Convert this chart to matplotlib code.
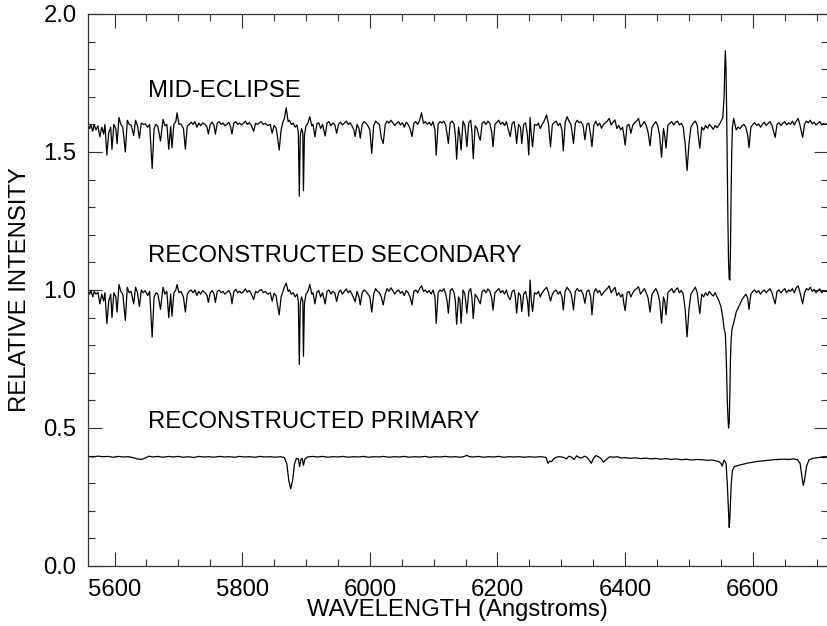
import numpy as np
import matplotlib
matplotlib.use("Agg")
import matplotlib.pyplot as plt
from matplotlib.ticker import MultipleLocator

# shared wavelength grid for the secondary and mid-eclipse traces (Angstroms)
wl_sec = [
    5558, 5561, 5563, 5566, 5568, 5571, 5574, 5577, 5580, 5583,
    5585, 5588, 5591, 5594, 5596, 5599, 5602, 5604, 5607, 5610,
    5613, 5617, 5620, 5623, 5626, 5630, 5633, 5636, 5639, 5642,
    5645, 5648, 5652, 5655, 5659, 5662, 5665, 5668, 5672, 5676,
    5679, 5682, 5685, 5688, 5690, 5693, 5696, 5698, 5701, 5704,
    5708, 5711, 5714, 5717, 5720, 5723, 5726, 5729, 5732, 5735,
    5738, 5742, 5745, 5747, 5750, 5753, 5756, 5758, 5761, 5764,
    5767, 5770, 5773, 5776, 5779, 5782, 5784, 5787, 5790, 5793,
    5796, 5799, 5802, 5805, 5808, 5811, 5814, 5818, 5821, 5824,
    5827, 5830, 5833, 5836, 5840, 5844, 5847, 5850, 5853, 5855,
    5858, 5861, 5864, 5866, 5869, 5872, 5874, 5877, 5880, 5883,
    5886, 5888, 5889.5, 5891, 5893, 5895, 5896, 5897.5, 5900, 5903,
    5906, 5909, 5911, 5914, 5917, 5920, 5923, 5926, 5930, 5933,
    5936, 5939, 5942, 5945, 5948, 5951, 5954, 5957, 5960, 5963,
    5966, 5969, 5972, 5975, 5977, 5980, 5983, 5985, 5988, 5991,
    5994, 5997, 6000, 6003, 6006, 6009, 6012, 6015, 6018, 6021,
    6024, 6027, 6030, 6033, 6036, 6039, 6042, 6045, 6048, 6051,
    6054, 6057, 6060, 6063, 6066, 6069, 6072, 6075, 6078, 6081,
    6084, 6087, 6090, 6093, 6096, 6099, 6102, 6104, 6107, 6110,
    6113, 6116, 6119, 6121, 6123, 6126, 6129, 6132, 6134, 6136,
    6139, 6141, 6143, 6146, 6149, 6152, 6155, 6158, 6160, 6162,
    6165, 6168, 6171, 6173, 6176, 6179, 6182, 6185, 6188, 6191,
    6193, 6196, 6199, 6202, 6205, 6208, 6211, 6214, 6217, 6220,
    6223, 6226, 6228, 6230, 6233, 6236, 6238, 6241, 6244, 6247,
    6249, 6251, 6253, 6255, 6258, 6261, 6264, 6267, 6270, 6273,
    6277, 6280, 6283, 6286, 6289, 6292, 6295, 6298, 6301, 6303,
    6306, 6309, 6312, 6315, 6317, 6319, 6322, 6325, 6328, 6331,
    6334, 6337, 6340, 6343, 6346, 6348, 6351, 6354, 6357, 6360,
    6363, 6366, 6369, 6372, 6375, 6378, 6381, 6384, 6387, 6390,
    6393, 6396, 6398, 6400, 6403, 6406, 6409, 6412, 6415, 6418,
    6421, 6424, 6427, 6430, 6433, 6436, 6439, 6442, 6445, 6448,
    6451, 6454, 6457, 6460, 6462, 6464, 6467, 6470, 6473, 6476,
    6479, 6482, 6485, 6488, 6491, 6494, 6497, 6500, 6503, 6507,
    6510, 6513, 6515, 6517, 6520, 6523, 6526, 6529, 6532, 6535,
    6538, 6541, 6544, 6547, 6550, 6553, 6555, 6556, 6557, 6558,
    6559, 6560, 6561, 6562, 6563, 6564, 6565, 6566, 6567, 6568,
    6570, 6572, 6574, 6577, 6580, 6583, 6586, 6589, 6592, 6594,
    6597, 6600, 6603, 6606, 6609, 6612, 6615, 6618, 6621, 6624,
    6627, 6630, 6633, 6635, 6638, 6641, 6644, 6647, 6650, 6653,
    6656, 6659, 6662, 6665, 6668, 6671, 6674, 6676, 6678, 6681,
    6684, 6687, 6690, 6693, 6696, 6699, 6702, 6705, 6708, 6711,
    6714, 6717,
]

secondary = [
    1.000, 0.985, 0.998, 0.975, 0.995, 0.985, 0.992, 0.950, 0.985, 0.960,
    0.990, 0.878, 0.960, 0.985, 0.900, 0.990, 0.975, 0.920, 1.020, 0.995,
    0.985, 0.890, 1.010, 0.990, 0.995, 0.950, 1.010, 0.990, 0.940, 1.000,
    0.990, 0.998, 0.980, 0.995, 0.829, 0.975, 0.990, 0.985, 0.930, 1.010,
    0.985, 0.995, 0.900, 0.985, 0.905, 0.990, 1.000, 1.020, 0.990, 0.995,
    0.975, 0.920, 0.985, 0.995, 1.000, 0.990, 1.000, 0.980, 0.995, 0.985,
    0.998, 0.990, 0.980, 0.955, 0.990, 0.998, 0.985, 0.955, 0.995, 1.000,
    0.990, 0.995, 0.985, 0.992, 0.998, 0.985, 0.950, 0.995, 1.002, 0.990,
    0.996, 0.988, 0.994, 1.004, 0.992, 0.998, 0.988, 0.965, 0.995, 0.990,
    0.998, 1.002, 0.990, 0.995, 0.985, 0.990, 0.960, 0.988, 0.980, 0.950,
    0.910, 0.975, 0.995, 1.010, 1.025, 0.995, 1.000, 0.985, 0.990, 0.975,
    0.985, 0.960, 0.730, 0.950, 0.975, 0.960, 0.760, 0.950, 0.985, 0.995,
    1.020, 0.985, 0.990, 0.950, 0.992, 0.998, 0.975, 0.990, 0.950, 0.995,
    1.000, 0.985, 0.995, 0.990, 0.958, 0.990, 1.000, 0.985, 0.995, 1.004,
    0.990, 0.998, 0.985, 0.970, 0.958, 0.995, 0.975, 0.946, 0.990, 1.000,
    0.995, 0.985, 0.975, 0.920, 0.985, 1.005, 0.995, 0.990, 0.975, 0.946,
    0.985, 1.005, 0.995, 1.008, 0.998, 0.985, 0.995, 1.000, 0.988, 0.995,
    0.980, 0.998, 0.990, 0.975, 0.946, 0.995, 1.000, 0.990, 1.005, 1.015,
    0.995, 1.000, 0.990, 0.998, 0.985, 1.000, 0.975, 0.879, 0.990, 1.000,
    0.995, 1.005, 0.985, 0.960, 0.916, 0.998, 1.005, 0.990, 0.960, 0.876,
    0.975, 0.965, 0.879, 1.000, 0.985, 0.916, 0.995, 1.005, 0.970, 0.897,
    0.985, 0.975, 0.960, 0.950, 0.995, 1.000, 0.990, 1.004, 0.995, 0.970,
    0.927, 0.990, 0.998, 1.005, 0.990, 0.998, 0.985, 1.000, 0.975, 0.965,
    0.995, 1.000, 0.975, 0.916, 0.990, 0.980, 0.922, 0.985, 0.995, 0.960,
    0.905, 1.036, 0.960, 0.922, 0.990, 0.985, 0.995, 0.975, 0.990, 1.000,
    1.010, 0.990, 0.960, 0.985, 0.995, 1.000, 0.985, 0.995, 0.975, 0.928,
    0.995, 1.010, 1.000, 0.990, 0.965, 0.928, 0.995, 1.005, 0.995, 1.000,
    0.985, 0.952, 0.995, 1.000, 0.975, 0.910, 0.990, 1.005, 0.990, 0.998,
    0.980, 0.990, 0.998, 1.005, 1.015, 0.990, 1.000, 1.010, 0.980, 0.990,
    0.975, 0.985, 0.950, 0.925, 0.990, 0.995, 0.975, 0.990, 1.000, 1.005,
    1.012, 0.985, 0.995, 1.005, 0.990, 0.970, 0.920, 0.985, 0.995, 1.005,
    0.990, 0.960, 0.880, 0.975, 0.960, 0.910, 0.990, 0.998, 1.005, 0.990,
    1.000, 1.008, 0.990, 0.998, 0.985, 0.930, 0.830, 0.930, 0.985, 1.000,
    1.010, 0.990, 0.950, 0.915, 0.985, 0.975, 0.990, 0.980, 0.995, 0.985,
    0.978, 0.990, 0.975, 0.960, 0.940, 0.900, 0.860, 0.850, 0.840, 0.780,
    0.700, 0.600, 0.540, 0.500, 0.520, 0.620, 0.750, 0.820, 0.850, 0.865,
    0.880, 0.900, 0.920, 0.935, 0.950, 0.965, 0.975, 0.985, 0.970, 0.930,
    0.985, 0.995, 1.000, 0.990, 0.998, 0.985, 0.995, 1.000, 0.990, 0.998,
    1.005, 0.990, 0.965, 0.950, 0.995, 1.000, 0.990, 0.998, 1.005, 0.990,
    1.000, 0.995, 1.005, 0.990, 1.008, 1.015, 0.990, 0.970, 0.950, 0.990,
    1.005, 1.000, 1.010, 0.995, 1.002, 0.990, 0.998, 1.004, 0.990, 0.998,
    0.994, 0.996,
]

mid_eclipse = [
    1.600, 1.585, 1.598, 1.575, 1.600, 1.580, 1.595, 1.555, 1.590, 1.565,
    1.600, 1.489, 1.570, 1.590, 1.510, 1.600, 1.585, 1.530, 1.625, 1.600,
    1.590, 1.500, 1.615, 1.600, 1.598, 1.560, 1.615, 1.595, 1.550, 1.605,
    1.600, 1.602, 1.590, 1.600, 1.440, 1.585, 1.600, 1.592, 1.540, 1.618,
    1.595, 1.600, 1.510, 1.592, 1.515, 1.600, 1.610, 1.642, 1.600, 1.602,
    1.585, 1.510, 1.595, 1.600, 1.608, 1.600, 1.610, 1.590, 1.605, 1.595,
    1.605, 1.600, 1.590, 1.565, 1.600, 1.608, 1.595, 1.565, 1.605, 1.610,
    1.600, 1.605, 1.595, 1.600, 1.608, 1.590, 1.565, 1.605, 1.610, 1.600,
    1.605, 1.598, 1.604, 1.612, 1.600, 1.606, 1.598, 1.575, 1.604, 1.600,
    1.606, 1.610, 1.600, 1.604, 1.596, 1.600, 1.568, 1.596, 1.588, 1.560,
    1.507, 1.580, 1.610, 1.620, 1.660, 1.610, 1.615, 1.600, 1.605, 1.590,
    1.598, 1.570, 1.340, 1.560, 1.585, 1.570, 1.360, 1.560, 1.595, 1.605,
    1.628, 1.595, 1.600, 1.555, 1.602, 1.606, 1.585, 1.600, 1.558, 1.605,
    1.610, 1.595, 1.605, 1.600, 1.568, 1.600, 1.608, 1.598, 1.604, 1.612,
    1.600, 1.606, 1.595, 1.580, 1.556, 1.600, 1.585, 1.550, 1.600, 1.610,
    1.604, 1.595, 1.580, 1.495, 1.595, 1.612, 1.605, 1.600, 1.550, 1.531,
    1.598, 1.612, 1.605, 1.615, 1.606, 1.596, 1.604, 1.610, 1.598, 1.606,
    1.590, 1.608, 1.600, 1.585, 1.556, 1.604, 1.610, 1.600, 1.615, 1.642,
    1.604, 1.610, 1.600, 1.608, 1.596, 1.610, 1.580, 1.489, 1.600, 1.610,
    1.605, 1.612, 1.596, 1.565, 1.531, 1.606, 1.612, 1.600, 1.560, 1.474,
    1.590, 1.560, 1.507, 1.612, 1.595, 1.519, 1.606, 1.615, 1.570, 1.476,
    1.595, 1.585, 1.555, 1.543, 1.604, 1.610, 1.600, 1.612, 1.604, 1.570,
    1.519, 1.600, 1.608, 1.615, 1.600, 1.608, 1.596, 1.610, 1.580, 1.556,
    1.604, 1.610, 1.580, 1.531, 1.600, 1.590, 1.531, 1.600, 1.606, 1.560,
    1.489, 1.625, 1.560, 1.519, 1.600, 1.596, 1.605, 1.585, 1.600, 1.612,
    1.634, 1.600, 1.519, 1.600, 1.606, 1.612, 1.596, 1.604, 1.580, 1.504,
    1.606, 1.628, 1.612, 1.600, 1.570, 1.531, 1.604, 1.615, 1.606, 1.610,
    1.596, 1.544, 1.600, 1.605, 1.560, 1.519, 1.598, 1.612, 1.595, 1.605,
    1.586, 1.600, 1.606, 1.612, 1.622, 1.598, 1.608, 1.616, 1.585, 1.596,
    1.580, 1.590, 1.560, 1.525, 1.596, 1.600, 1.568, 1.598, 1.606, 1.612,
    1.622, 1.590, 1.600, 1.610, 1.596, 1.570, 1.522, 1.590, 1.600, 1.610,
    1.596, 1.560, 1.481, 1.585, 1.560, 1.514, 1.598, 1.604, 1.610, 1.598,
    1.608, 1.612, 1.598, 1.604, 1.590, 1.530, 1.433, 1.530, 1.590, 1.606,
    1.612, 1.596, 1.550, 1.514, 1.590, 1.580, 1.596, 1.586, 1.600, 1.592,
    1.582, 1.596, 1.588, 1.598, 1.610, 1.625, 1.700, 1.800, 1.867, 1.800,
    1.650, 1.450, 1.250, 1.100, 1.040, 1.036, 1.150, 1.350, 1.500, 1.590,
    1.622, 1.600, 1.580, 1.590, 1.585, 1.595, 1.600, 1.590, 1.560, 1.516,
    1.590, 1.600, 1.606, 1.596, 1.602, 1.590, 1.600, 1.608, 1.596, 1.604,
    1.610, 1.596, 1.570, 1.553, 1.600, 1.606, 1.596, 1.604, 1.610, 1.598,
    1.606, 1.600, 1.612, 1.598, 1.612, 1.622, 1.596, 1.575, 1.553, 1.600,
    1.612, 1.606, 1.615, 1.602, 1.608, 1.598, 1.604, 1.610, 1.598, 1.604,
    1.600, 1.602,
]

wl_pri = [
    5558, 5566, 5574, 5582, 5590, 5598, 5606, 5614, 5622, 5630,
    5636, 5642, 5648, 5654, 5660, 5668, 5676, 5684, 5692, 5700,
    5708, 5716, 5724, 5732, 5740, 5748, 5756, 5764, 5772, 5780,
    5788, 5796, 5804, 5812, 5820, 5828, 5836, 5844, 5852, 5860,
    5866, 5870, 5873, 5876, 5879, 5882, 5885, 5888, 5890, 5892,
    5894, 5896, 5898, 5902, 5910, 5918, 5926, 5934, 5942, 5950,
    5958, 5966, 5974, 5982, 5990, 5998, 6006, 6014, 6022, 6030,
    6038, 6046, 6054, 6062, 6070, 6078, 6086, 6094, 6102, 6110,
    6118, 6126, 6134, 6142, 6148, 6152, 6156, 6162, 6170, 6178,
    6186, 6194, 6202, 6210, 6218, 6226, 6234, 6242, 6250, 6258,
    6266, 6272, 6276, 6279, 6282, 6285, 6288, 6292, 6296, 6300,
    6304, 6308, 6312, 6316, 6320, 6324, 6328, 6332, 6336, 6340,
    6344, 6347, 6350, 6354, 6358, 6362, 6366, 6369, 6372, 6376,
    6382, 6388, 6394, 6400, 6408, 6416, 6424, 6432, 6440, 6448,
    6456, 6464, 6472, 6480, 6488, 6496, 6504, 6512, 6520, 6528,
    6536, 6542, 6547, 6550, 6552, 6555, 6558, 6560, 6562, 6563,
    6564, 6566, 6568, 6571, 6575, 6580, 6586, 6592, 6600, 6608,
    6616, 6624, 6632, 6640, 6648, 6656, 6664, 6670, 6674, 6677,
    6679, 6681, 6684, 6688, 6694, 6700, 6706, 6712, 6717,
]

primary = [
    0.397, 0.395, 0.398, 0.396, 0.397, 0.394, 0.397, 0.395, 0.396, 0.392,
    0.388, 0.386, 0.391, 0.398, 0.395, 0.397, 0.394, 0.397, 0.395, 0.397,
    0.394, 0.396, 0.393, 0.397, 0.395, 0.396, 0.394, 0.397, 0.395, 0.396,
    0.394, 0.397, 0.395, 0.396, 0.394, 0.397, 0.395, 0.396, 0.394, 0.396,
    0.393, 0.370, 0.310, 0.280, 0.310, 0.370, 0.390, 0.388, 0.360, 0.386,
    0.390, 0.365, 0.386, 0.395, 0.397, 0.395, 0.397, 0.394, 0.396, 0.395,
    0.397, 0.394, 0.396, 0.395, 0.397, 0.394, 0.396, 0.395, 0.397, 0.394,
    0.396, 0.395, 0.397, 0.394, 0.396, 0.395, 0.397, 0.394, 0.396, 0.395,
    0.397, 0.395, 0.396, 0.394, 0.397, 0.401, 0.396, 0.395, 0.397, 0.394,
    0.396, 0.395, 0.397, 0.394, 0.396, 0.395, 0.396, 0.394, 0.396, 0.394,
    0.396, 0.395, 0.393, 0.372, 0.380, 0.378, 0.389, 0.394, 0.396, 0.395,
    0.393, 0.388, 0.398, 0.394, 0.386, 0.399, 0.393, 0.391, 0.398, 0.394,
    0.383, 0.372, 0.388, 0.400, 0.396, 0.390, 0.376, 0.383, 0.389, 0.396,
    0.394, 0.396, 0.391, 0.393, 0.390, 0.392, 0.389, 0.391, 0.388, 0.390,
    0.387, 0.389, 0.386, 0.388, 0.385, 0.387, 0.384, 0.386, 0.385, 0.383,
    0.384, 0.381, 0.378, 0.372, 0.362, 0.384, 0.372, 0.300, 0.190, 0.140,
    0.170, 0.290, 0.345, 0.360, 0.363, 0.366, 0.370, 0.373, 0.376, 0.379,
    0.381, 0.383, 0.385, 0.386, 0.387, 0.386, 0.388, 0.385, 0.372, 0.325,
    0.292, 0.310, 0.360, 0.385, 0.390, 0.392, 0.394, 0.393, 0.395,
]

labels = ["MID-ECLIPSE", "RECONSTRUCTED SECONDARY", "RECONSTRUCTED PRIMARY"]
label_y = [1.70, 1.10, 0.50]

plt.rcParams['font.family'] = ['Liberation Sans', 'DejaVu Sans']
FS = 17.2

fig = plt.figure(figsize=(8.27, 6.26), dpi=100)
ax = fig.add_axes([87.7 / 827, 60 / 626, (827.5 - 87.7) / 827, 552 / 626])

for wl, fl in [(wl_sec, mid_eclipse), (wl_sec, secondary), (wl_pri, primary)]:
    ax.plot(wl, fl, color='black', lw=0.9)

for txt, yv in zip(labels, label_y):
    ax.text(5653, yv, txt, fontsize=FS, ha='left', va='baseline')

ax.set_xlim(5558, 6717)
ax.set_ylim(0.0, 2.0)
ax.xaxis.set_major_locator(MultipleLocator(200))
ax.xaxis.set_minor_locator(MultipleLocator(50))
ax.yaxis.set_major_locator(MultipleLocator(0.5))
ax.yaxis.set_minor_locator(MultipleLocator(0.1))
ax.yaxis.set_major_formatter(plt.FormatStrFormatter('%.1f'))
ax.tick_params(which='both', direction='in', top=True, right=True,
               labelsize=FS, width=0.8, color='#333333')
ax.tick_params(which='major', length=10)
ax.tick_params(which='minor', length=5)
ax.tick_params(axis='x', which='major', pad=9)
ax.tick_params(axis='y', which='major', pad=8)
for s in ax.spines.values():
    s.set_linewidth(0.9)
    s.set_color('#333333')

ax.set_xlabel('WAVELENGTH (Angstroms)', fontsize=FS, labelpad=-1)
ax.set_ylabel('RELATIVE INTENSITY', fontsize=FS, labelpad=9)

fig.savefig('out.png', dpi=100)
